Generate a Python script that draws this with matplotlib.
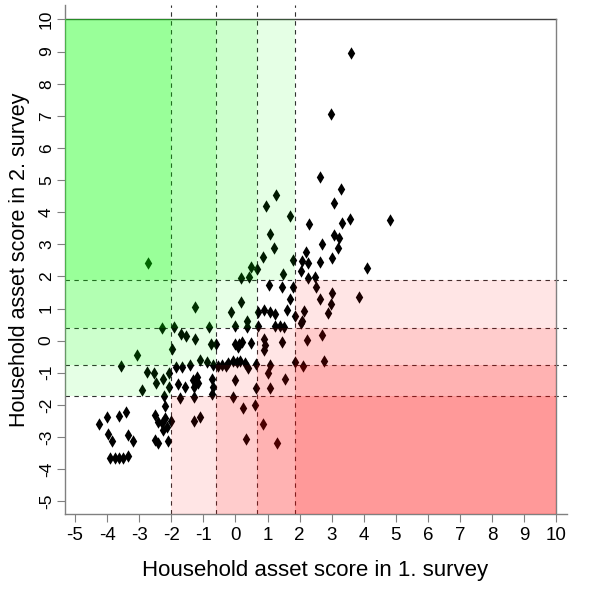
import matplotlib
matplotlib.use("Agg")
import matplotlib.pyplot as plt
from matplotlib.patches import Rectangle

# asset scores (survey 1, survey 2)
score_1 = [
    2.63, 3.28, 3.07, 3.58, 3.33, 1.25, 0.94, 1.70, 2.30, 1.07,
    3.07, 3.23, 2.69, 1.21, 3.18, 2.19, 0.87, 3.00, 1.78, 2.08,
    2.27, 2.62, 4.10, 0.50, 0.67, 0.42, 0.16, 1.48, 2.04, 2.27,
    2.48, 1.05, 1.44, 1.78, 2.50, 3.85, 3.02, 2.63, 1.70, 0.16,
    2.98, -0.15, 0.71, 0.90, 1.07, 1.23, 2.14, 2.87, 1.85, 0.35,
    2.08, -0.02, 0.35, 0.71, 1.23, 1.39, 1.52, 2.04, -0.02, 0.09,
    0.50, 0.90, 0.92, 0.90, 1.44, 2.24, 2.70, -0.22, -0.07, 0.14,
    0.40, 0.64, 1.07, 1.85, 2.09, 2.76, 1.02, -0.02, 1.54, 0.64,
    1.07, -0.07, 0.24, 0.61, 0.87, 0.32, 1.31,
    -2.72, -1.26, -2.28, -1.92, -1.71, -1.54, -1.26, -0.83, -0.76, -0.61,
    -1.99, -3.08, -3.55, -2.77, -2.53, -2.25, -2.06, -2.48, -2.06, -2.92,
    -2.22, -1.86, -1.68, -1.42, -1.11, -0.90, -0.69, -0.43, -1.57, -1.31,
    -1.21, -1.16, -1.28, -0.74, -0.69, -0.74, -1.28, -1.73, -2.20, -2.51,
    -2.42, -2.30, -2.20, -2.01, -1.29, -1.11, -4.25, -4.01, -3.63, -3.42,
    -3.96, -3.86, -3.34, -3.18, -2.51, -2.40, -2.09, -2.25, -2.14,
    -3.91, -3.75, -3.62, -3.50, -3.36,
    3.59, 2.98, 4.83,
    0.12, 0.20, -0.55, -0.30, 0.05, -1.78, 0.30, 1.60,
]
score_2 = [
    5.10, 4.72, 4.29, 3.78, 3.67, 4.53, 4.19, 3.88, 3.63, 3.32,
    3.29, 3.20, 3.00, 2.87, 2.87, 2.77, 2.61, 2.58, 2.51, 2.49,
    2.42, 2.45, 2.25, 2.28, 2.22, 1.99, 1.94, 2.06, 2.17, 1.94,
    1.99, 1.73, 1.66, 1.68, 1.68, 1.36, 1.47, 1.31, 1.31, 1.21,
    1.14, 0.88, 0.88, 0.95, 0.90, 0.82, 0.93, 0.87, 0.77, 0.61,
    0.61, 0.46, 0.43, 0.46, 0.46, 0.46, 0.43, 0.54, -0.09, -0.19,
    -0.07, 0.04, -0.14, -0.30, -0.04, 0.02, 0.19, -0.71, -0.63, -0.63,
    -0.85, -0.73, -0.76, -0.66, -0.79, -0.63, -1.00, -1.23, -1.20, -1.47,
    -1.49, -1.75, -2.11, -2.01, -2.60, -3.05, -3.20,
    2.42, 1.05, 0.38, 0.41, 0.22, 0.14, 0.04, 0.41, -0.09, -0.09,
    -0.26, -0.46, -0.79, -0.97, -1.02, -1.20, -1.02, -1.33, -1.44, -1.54,
    -1.71, -0.82, -0.82, -0.76, -0.61, -0.68, -0.76, -0.76, -1.44, -1.23,
    -1.13, -1.33, -1.44, -1.18, -1.44, -1.67, -1.75, -1.80, -2.04, -2.32,
    -2.53, -2.58, -2.42, -2.50, -2.51, -2.37, -2.61, -2.37, -2.34, -2.22,
    -2.92, -3.13, -2.94, -3.12, -3.08, -3.18, -3.13, -2.78, -2.69,
    -3.65, -3.65, -3.65, -3.65, -3.60,
    8.95, 7.05, 3.75,
    -0.12, -0.05, -0.80, -0.78, -0.68, -1.35, -0.70, 0.95,
]

# quintile cut points of each survey
cuts_1 = [-2.0, -0.59, 0.67, 1.86]
cuts_2 = [-1.72, -0.77, 0.38, 1.885]

ticks = list(range(-5, 11))
xlim = (-5.31, 10.32)
ylim = (-5.40, 10.45)

font = ["Liberation Sans", "DejaVu Sans"]


def main():
    plt.rcParams["axes.unicode_minus"] = False
    plt.rcParams["font.family"] = font
    fig = plt.figure(figsize=(6, 6), dpi=100)
    ax = fig.add_axes([0.1083, 0.1433, 0.8362, 0.8483])
    ax.set_xlim(*xlim)
    ax.set_ylim(*ylim)

    ax.scatter(score_1, score_2, marker="d", s=40, color="black",
               linewidths=0, zorder=2)

    for c in cuts_1:
        ax.axvline(c, color="#303030", lw=0.8, dashes=(4, 4), zorder=1)
    for c in cuts_2:
        ax.axhline(c, color="#303030", lw=0.8, dashes=(4, 4), zorder=1)

    ax.plot([xlim[0], 10], [10, 10], color="#404040", lw=1, zorder=1)
    ax.plot([10, 10], [ylim[0], 10], color="#808080", lw=1, zorder=1)

    # shaded cells: green = moved up, red = moved down
    xe = [xlim[0]] + cuts_1 + [10]
    ye = [ylim[0]] + cuts_2 + [10]
    for i in range(5):
        for j in range(5):
            d = j - i
            if d == 0:
                continue
            col = "#00ff00" if d > 0 else "#ff0000"
            ax.add_patch(Rectangle((xe[i], ye[j]), xe[i + 1] - xe[i],
                                   ye[j + 1] - ye[j], facecolor=col,
                                   alpha=0.1 * abs(d), linewidth=0,
                                   zorder=3))

    for side in ["top", "right"]:
        ax.spines[side].set_visible(False)
    for side in ["left", "bottom"]:
        ax.spines[side].set_color("#808080")
        ax.spines[side].set_linewidth(1)

    ax.set_xticks(ticks)
    ax.set_yticks(ticks)
    ax.tick_params(axis="both", direction="out", length=5.5, width=0.8,
                   color="#808080")
    ax.tick_params(axis="x", pad=4, labelsize=13.5)
    ax.tick_params(axis="y", pad=2.5, labelsize=12.5, labelrotation=90)
    for lab in ax.get_yticklabels():
        lab.set_va("center")

    fig.text(0.525, 0.04, "Household asset score in 1. survey",
             fontsize=16, ha="center", va="baseline")
    fig.text(0.032, 0.567, "Household asset score in 2. survey",
             fontsize=15.5, ha="center", va="center", rotation=90)

    fig.savefig("out.png", dpi=100)


if __name__ == "__main__":
    main()
